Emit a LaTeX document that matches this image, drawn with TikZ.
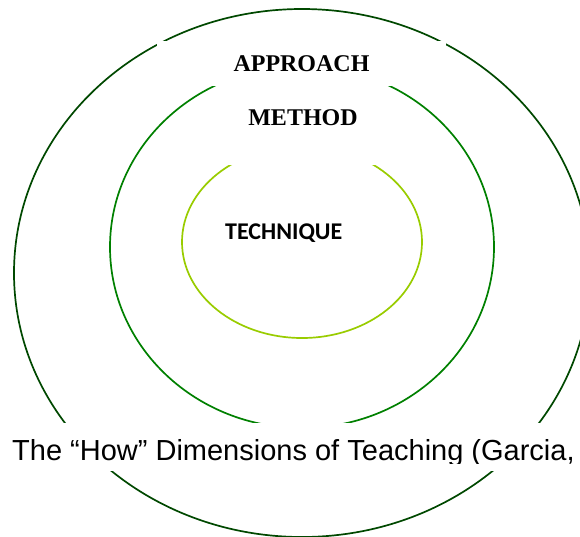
\documentclass[tikz,border=0pt]{standalone}
\usepackage{fontspec}
\setmainfont{Liberation Serif}
\newfontfamily\captionfont{Liberation Sans}
\newfontfamily\techfont{Carlito}
\definecolor{outergreen}{RGB}{0,72,0}
\definecolor{midgreen}{RGB}{0,128,0}
\definecolor{innergreen}{RGB}{153,204,0}
\tikzset{
  ring/.style={line width=1.7pt},
  mask/.style={white,fill=white},
  ringlabel/.style={anchor=base,inner sep=0pt,font=\bfseries\fontsize{24}{24}\selectfont},
}

\begin{document}
\begin{tikzpicture}[x=1pt,y=-1pt]
                \useasboundingbox (0,0) rectangle (580,536);
                \clip (0,0) rectangle (580,536);
                \draw[ring,outergreen] (302,273) ellipse [x radius=288pt,y radius=264pt];
                \draw[ring,midgreen] (302,247) ellipse [x radius=192pt,y radius=181pt];
                \draw[ring,innergreen] (302,242) ellipse [x radius=120pt,y radius=96pt];
                % white boxes behind the texts
                \fill[mask] (157,41) rectangle (446,86);
                \fill[mask] (225,95) rectangle (380,165);
                \fill[mask] (0,423) rectangle (580,471);
                \node[ringlabel] (approach) at (301.5,71) {APPROACH};
                \node[ringlabel] (method) at (303,125) {METHOD};
                \node[ringlabel,anchor=base west,font=\techfont\bfseries\fontsize{24}{24}\selectfont] (technique) at (225,239) {TECHNIQUE};
                \begin{scope}
                \clip (0,423) rectangle (580,463);
                \node[anchor=base west,inner sep=0pt,font=\captionfont\fontsize{29}{29}\selectfont] (caption) at (12,460) {The “How” Dimensions of Teaching (Garcia,};
                \end{scope}
\end{tikzpicture}
\end{document}
